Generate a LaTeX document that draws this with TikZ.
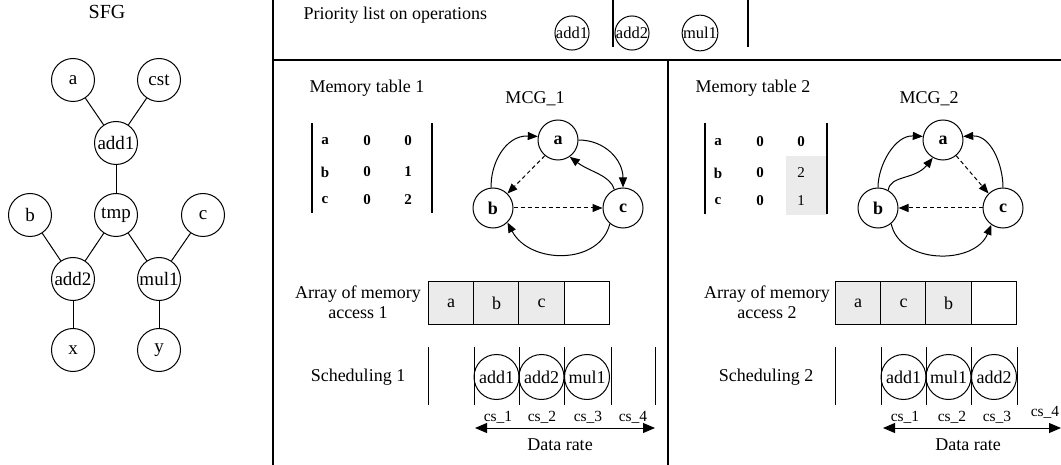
\documentclass[tikz,border=0pt]{standalone}
\usepackage{fontspec}
\setmainfont{Liberation Serif}
\usetikzlibrary{arrows.meta}
\definecolor{cellgray}{RGB}{235,235,235}
\begin{document}
\begin{tikzpicture}[x=1pt,y=-1pt,line width=1pt,
  txt/.style={font=\fontsize{18}{20}\selectfont, inner sep=0},
  cstxt/.style={font=\fontsize{15.5}{16}\selectfont, inner sep=0},
  tabtxt/.style={font=\fontsize{15}{16}\selectfont\bfseries, inner sep=0},
  sfgnode/.style={circle, draw, minimum size=43pt, inner sep=0, font=\fontsize{19}{20}\selectfont},
  prionode/.style={circle, draw, minimum size=33pt, inner sep=0, font=\fontsize{16.5}{18}\selectfont},
  mcgnode/.style={circle, draw, minimum size=40pt, inner sep=0, font=\fontsize{18}{20}\selectfont\bfseries},
  schnode/.style={circle, draw, minimum size=45pt, inner sep=0, font=\fontsize{18}{20}\selectfont},
  cellnode/.style={rectangle, draw, minimum width=45.5pt, minimum height=43pt, inner sep=0, font=\fontsize{18}{20}\selectfont},
  frameline/.style={line width=1.2pt},
  arr/.style={-{Triangle[length=10pt,width=8pt]}},
  darr/.style={arr, dashed, dash pattern=on 4pt off 3pt},
  ratearr/.style={{Triangle[length=12pt,width=10pt]}-{Triangle[length=12pt,width=10pt]}},
]
\useasboundingbox (0,0) rectangle (1061,465);

% ---------- frame ----------
\coordinate (f1) at (273,0); \coordinate (f2) at (273,465);
\coordinate (f3) at (273,60); \coordinate (f4) at (1061,60);
\coordinate (f5) at (668,60); \coordinate (f6) at (668,465);
\draw[frameline] (f1) -- (f2);
\draw[frameline] (f3) -- (f4);
\draw[frameline] (f5) -- (f6);

% ---------- SFG ----------
\node[txt, font=\fontsize{20}{22}\selectfont] (sfgt) at (107,12) {SFG};
\node[sfgnode] (sa) at (73,80) {a};
\node[sfgnode] (scst) at (159,80) {cst};
\node[sfgnode] (sadd1) at (116,143) {add1};
\node[sfgnode] (sb) at (30,215) {b};
\node[sfgnode] (stmp) at (116,215) {tmp};
\node[sfgnode] (sc) at (203,215) {c};
\node[sfgnode] (sadd2) at (73,279) {add2};
\node[sfgnode] (smul1) at (159,279) {mul1};
\node[sfgnode] (sx) at (73,350) {x};
\node[sfgnode] (sy) at (159,350) {y};
\draw (sa) -- (sadd1);
\draw (scst) -- (sadd1);
\draw (sadd1) -- (stmp);
\draw (sb) -- (sadd2);
\draw (stmp) -- (sadd2);
\draw (stmp) -- (smul1);
\draw (sc) -- (smul1);
\draw (sadd2) -- (sx);
\draw (smul1) -- (sy);

% ---------- priority list ----------
\node[txt, anchor=west] (prt) at (303,15) {Priority list on operations};
\node[prionode] (p1) at (572,33) {add1};
\node[prionode] (p2) at (632,33) {add2};
\node[prionode] (p3) at (700,33) {mul1};
\coordinate (ps1a) at (613,0); \coordinate (ps1b) at (613,47);
\coordinate (ps2a) at (748,0); \coordinate (ps2b) at (748,47);
\draw[frameline] (ps1a) -- (ps1b);
\draw[frameline] (ps2a) -- (ps2b);

% ---------- memory table 1 ----------
\node[txt, anchor=west] (mt1) at (309,88) {Memory table 1};
\coordinate (t1l1) at (312,123); \coordinate (t1l2) at (312,213);
\coordinate (t1r1) at (432,123); \coordinate (t1r2) at (432,213);
\draw[line width=1.5pt] (t1l1) -- (t1l2);
\draw[line width=1.5pt] (t1r1) -- (t1r2);
\node[tabtxt] (t1a1) at (325,141) {a};
\node[tabtxt] (t1a2) at (367,141) {0};
\node[tabtxt] (t1a3) at (408,141) {0};
\node[tabtxt] (t1b1) at (325,172) {b};
\node[tabtxt] (t1b2) at (367,172) {0};
\node[tabtxt] (t1b3) at (408,172) {1};
\node[tabtxt] (t1c1) at (325,200) {c};
\node[tabtxt] (t1c2) at (367,200) {0};
\node[tabtxt] (t1c3) at (408,200) {2};

% ---------- MCG_1 ----------
\node[txt] (mcg1t) at (535,99) {MCG\_1};
\node[mcgnode] (ma1) at (558,140) {a};
\node[mcgnode] (mb1) at (493,208) {b};
\node[mcgnode] (mc1) at (623,208) {c};
\draw[arr] (mb1.95) .. controls (490,165) and (505,135) .. (ma1.170);
\draw[arr] (ma1.east) .. controls (605,140) and (623,160) .. (mc1.north);
\draw[darr] (ma1.-130) -- (mb1.45);
\draw[arr] (mc1.115) .. controls (610,175) and (590,172) .. (ma1.-55);
\draw[darr] (mb1.east) -- (mc1.west);
\draw[arr] (mc1.-130) .. controls (600,265) and (530,265) .. (mb1.-45);

% ---------- memory table 2 ----------
\node[txt, anchor=west] (mt2) at (695,88) {Memory table 2};
\fill[cellgray] (786,156) rectangle (827,215);
\coordinate (t2l1) at (705,123); \coordinate (t2l2) at (705,214);
\coordinate (t2r1) at (827,123); \coordinate (t2r2) at (827,214);
\draw[line width=1.5pt] (t2l1) -- (t2l2);
\draw[line width=1.5pt] (t2r1) -- (t2r2);
\node[tabtxt] (t2a1) at (718,142) {a};
\node[tabtxt] (t2a2) at (760,142) {0};
\node[tabtxt] (t2a3) at (801,142) {0};
\node[tabtxt] (t2b1) at (718,173) {b};
\node[tabtxt] (t2b2) at (760,173) {0};
\node[tabtxt, font=\fontsize{15}{16}\selectfont] (t2b3) at (801,173) {2};
\node[tabtxt] (t2c1) at (718,201) {c};
\node[tabtxt] (t2c2) at (760,201) {0};
\node[tabtxt, font=\fontsize{15}{16}\selectfont] (t2c3) at (801,201) {1};

% ---------- MCG_2 ----------
\node[txt] (mcg2t) at (929,99) {MCG\_2};
\node[mcgnode] (ma2) at (943,140) {a};
\node[mcgnode] (mb2) at (878,208) {b};
\node[mcgnode] (mc2) at (1003,208) {c};
\draw[arr] (mb2.north) .. controls (878,165) and (895,135) .. (ma2.170);
\draw[arr] (mb2.60) .. controls (890,175) and (915,180) .. (ma2.-120);
\draw[arr] (mc2.north) .. controls (1003,165) and (991,135) .. (ma2.10);
\draw[darr] (ma2.-50) -- (mc2.135);
\draw[darr] (mc2.west) -- (mb2.east);
\draw[arr] (mb2.-50) .. controls (900,265) and (975,265) .. (mc2.-125);

% ---------- arrays ----------
\node[txt, align=center] (ar1t) at (358,302) {Array of memory\\access 1};
\node[cellnode, fill=cellgray] (c11) at (451,303.5) {a};
\node[cellnode, fill=cellgray] (c12) at (496.5,303.5) {b};
\node[cellnode, fill=cellgray] (c13) at (541.5,303.5) {c};
\node[cellnode] (c14) at (587,303.5) {};

\node[txt, align=center] (ar2t) at (767,302) {Array of memory\\access 2};
\node[cellnode, fill=cellgray] (c21) at (858,303.5) {a};
\node[cellnode, fill=cellgray] (c22) at (903.5,303.5) {c};
\node[cellnode, fill=cellgray] (c23) at (948.5,303.5) {b};
\node[cellnode] (c24) at (994,303.5) {};

% ---------- scheduling 1 ----------
\node[txt] (sc1t) at (358,377) {Scheduling 1};
\foreach \xx in {428,474,519,564,611,655} {\draw (\xx,347) -- (\xx,405);}
\node[schnode] (s1a) at (496.5,377) {add1};
\node[schnode] (s1b) at (541.5,377) {add2};
\node[schnode] (s1c) at (587,377) {mul1};
\node[cstxt] (cs11) at (498,417) {cs\_1};
\node[cstxt] (cs12) at (542,417) {cs\_2};
\node[cstxt] (cs13) at (588,417) {cs\_3};
\node[cstxt] (cs14) at (633,417) {cs\_4};
\coordinate (dr1l) at (475,428); \coordinate (dr1r) at (655,428);
\draw[ratearr] (dr1l) -- (dr1r);
\node[txt] (dr1t) at (560,445) {Data rate};

% ---------- scheduling 2 ----------
\node[txt] (sc2t) at (766,377) {Scheduling 2};
\foreach \xx in {835,881,926,971,1017} {\draw (\xx,347) -- (\xx,405);}
\node[schnode] (s2a) at (903.5,377) {add1};
\node[schnode] (s2b) at (948.5,377) {mul1};
\node[schnode] (s2c) at (994,377) {add2};
\node[cstxt] (cs21) at (905,417) {cs\_1};
\node[cstxt] (cs22) at (952,417) {cs\_2};
\node[cstxt] (cs23) at (997,417) {cs\_3};
\node[cstxt] (cs24) at (1045,412) {cs\_4};
\coordinate (dr2l) at (883,428); \coordinate (dr2r) at (1061,428);
\draw[ratearr] (dr2l) -- (dr2r);
\node[txt] (dr2t) at (968,445) {Data rate};
\end{tikzpicture}
\end{document}
